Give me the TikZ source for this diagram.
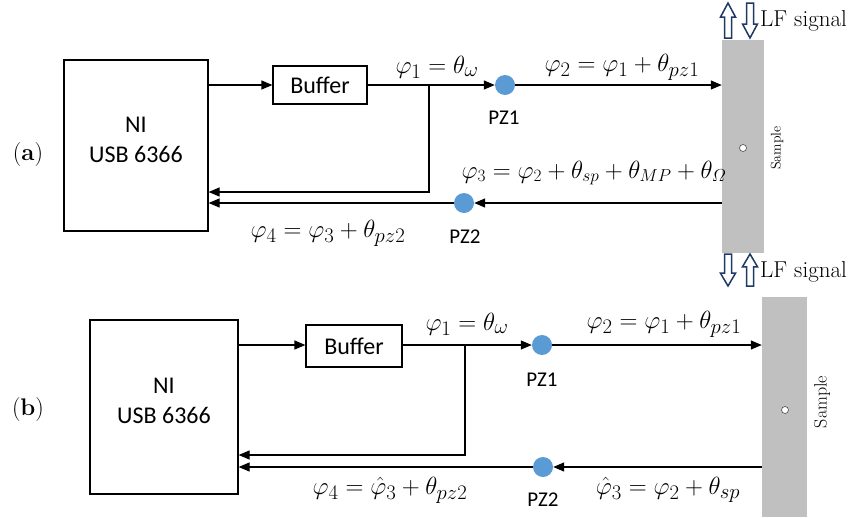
\documentclass[tikz,border=0pt]{standalone}
\usepackage{fontspec}
\newfontfamily\carl{Carlito}
\usetikzlibrary{arrows.meta}
\definecolor{pzblue}{HTML}{5B9BD5}
\definecolor{samplegray}{HTML}{C0C0C0}
\definecolor{lfnavy}{HTML}{1F3864}
% italic capital Omega from the math letters font
\newcommand\itOmega{\mathchar"010A}
\tikzset{
  blk/.style={draw, line width=1.2pt, inner sep=0pt},
  sans/.style={font=\carl\fontsize{24}{30}\selectfont, inner sep=0pt, align=center},
  pzlbl/.style={font=\carl\fontsize{21}{24}\selectfont, inner sep=0pt},
  eq/.style={font=\fontsize{28}{32}\selectfont, inner sep=0pt},
  eqsmall/.style={font=\fontsize{24.5}{28}\selectfont, inner sep=0pt},
  pz/.style={circle, fill=pzblue, minimum size=20pt, inner sep=0pt},
  samp/.style={fill=samplegray, inner sep=0pt},
  hole/.style={circle, draw=black!70, fill=white, line width=0.6pt, minimum size=7pt, inner sep=0pt},
  arr/.style={line width=1.2pt, -{Triangle[length=11pt,width=9pt]}},
  lfarrow/.style={draw=lfnavy, fill=white, line width=1.5pt, line join=miter},
  serif/.style={font=\fontsize{24}{28}\selectfont, inner sep=0pt},
  lftxt/.style={font=\fontsize{23}{26}\selectfont, inner sep=0pt, anchor=west},
}
% hollow block arrows: #1 = x, #2 = tip y, #3 = tail y
\newcommand\hollowarrow[3]{%
  \pgfmathsetmacro\hd{#2+((#3)-(#2))*0.4}%
  \draw[lfarrow] (#1-3.5,#3) -- (#1-3.5,\hd) -- (#1-7.5,\hd) -- (#1,#2) -- (#1+7.5,\hd) -- (#1+3.5,\hd) -- (#1+3.5,#3) -- cycle;}
\begin{document}
\begin{tikzpicture}[x=1pt,y=-1pt]
\useasboundingbox (0,0) rectangle (857,517);

% ---------------- panel (a) ----------------
\node[serif] (tagA) at (28,155) {(\textbf{a})};
\node[blk, minimum width=144pt, minimum height=171pt] (nia) at (136,145.5) {};
\node[sans] (niatxt) at (136,140) {NI\\USB 6366};
\node[blk, sans, minimum width=94pt, minimum height=38pt] (bufa) at (320,85) {Buffer};
\node[pz] (pz1a) at (505,85) {};
\node[pz] (pz2a) at (464,203) {};
\node[samp, minimum width=42pt, minimum height=213pt] (sampa) at (743,146.5) {};
\node[hole] (holea) at (743,148) {};
\node[font=\fontsize{14}{16}\selectfont, rotate=90, inner sep=0pt] (sampatxt) at (777,148) {Sample};

\coordinate (bra) at (429,85);
\draw[arr] (nia.east |- bufa) -- (bufa.west);
\draw[arr] (bufa.east) -- (pz1a.west);
\draw[arr] (pz1a.east) -- (pz1a -| sampa.west);
\draw[arr] (bra) |- ([yshift=-46.5pt]nia.east);
\draw[arr] (pz2a -| sampa.west) -- (pz2a.east);
\draw[arr] (pz2a.west) -- (nia.east |- pz2a);

\node[eq] (eq1a) at (437,67) {$\varphi_1=\theta_\omega$};
\node[eq] (eq2a) at (622,67) {$\varphi_2=\varphi_1+\theta_{pz1}$};
\node[eqsmall] (eq3a) at (594,173) {$\varphi_3=\varphi_2+\theta_{sp}+\theta_{MP}+\theta_{\itOmega}$};
\node[eq] (eq4a) at (328,233) {$\varphi_4=\varphi_3+\theta_{pz2}$};
\node[pzlbl] (pz1atxt) at (504,118) {PZ1};
\node[pzlbl] (pz2atxt) at (465,237) {PZ2};

\hollowarrow{728}{3}{38}
\hollowarrow{750}{38}{3}
\node[lftxt] (lfa) at (760,21) {LF signal};
\hollowarrow{728}{286}{254}
\hollowarrow{750}{254}{286}
\node[lftxt] (lfb) at (760,272) {LF signal};

% ---------------- panel (b) ----------------
\node[serif] (tagB) at (28,410) {(\textbf{b})};
\node[blk, minimum width=148pt, minimum height=174pt] (nib) at (164,407) {};
\node[sans] (nibtxt) at (164,401) {NI\\USB 6366};
\node[blk, sans, minimum width=96pt, minimum height=42pt] (bufb) at (354,346) {Buffer};
\node[pz] (pz1b) at (542,345) {};
\node[pz] (pz2b) at (543,467) {};
\node[samp, minimum width=45pt, minimum height=220pt] (sampb) at (784.5,407) {};
\node[hole] (holeb) at (785,410) {};
\node[font=\fontsize{18}{20}\selectfont, rotate=90, inner sep=0pt] (sampbtxt) at (822,402) {Sample};

\coordinate (brb) at (465,345);
\draw[arr] (nib.east |- pz1b) -- (bufb.west |- pz1b);
\draw[arr] (bufb.east |- pz1b) -- (pz1b.west);
\draw[arr] (pz1b.east) -- (pz1b -| sampb.west);
\draw[arr] (brb) |- ([yshift=-48pt]nib.east);
\draw[arr] (pz2b -| sampb.west) -- (pz2b.east);
\draw[arr] (pz2b.west) -- (nib.east |- pz2b);

\node[eq] (eq1b) at (467,324) {$\varphi_1=\theta_\omega$};
\node[eq] (eq2b) at (664,324) {$\varphi_2=\varphi_1+\theta_{pz1}$};
\node[eq] (eq3b) at (668,490) {$\hat{\varphi}_3=\varphi_2+\theta_{sp}$};
\node[eq] (eq4b) at (390,490) {$\varphi_4=\hat{\varphi}_3+\theta_{pz2}$};
\node[pzlbl] (pz1btxt) at (542,380) {PZ1};
\node[pzlbl] (pz2btxt) at (543,500) {PZ2};
\end{tikzpicture}
\end{document}
